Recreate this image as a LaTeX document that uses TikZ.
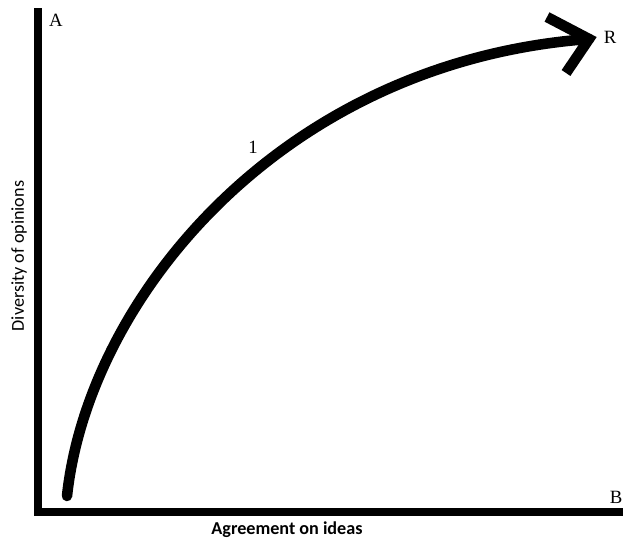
\documentclass[tikz,border=0pt]{standalone}
\usepackage{fontspec}
\setmainfont{Liberation Serif}
\newfontfamily\calfont{Carlito}
\tikzset{
  axisline/.style={line width=7.5pt, line cap=rect},
  pathline/.style={line width=9pt, line cap=round},
  corner/.style={font=\fontsize{16}{16}\selectfont, inner sep=0pt},
  axislabel/.style={font=\calfont\fontsize{15.5}{16}\selectfont, inner sep=0pt}
}
\begin{document}
\begin{tikzpicture}[x=0.03cm, y=-0.03cm]
        \useasboundingbox (0,0) rectangle (623,539);
        % Assi
        \coordinate (top) at (38,12);
        \coordinate (origin) at (38,512);
        \coordinate (right) at (628,512);
        \draw[axisline] (top) -- (origin) -- (right);

        % Etichette degli angoli
        \node[corner] (A) at (56,20) {A};
        \node[corner] (R) at (610,37) {R};
        \node[corner] (B) at (616,497) {B};

        % Nomi degli assi
        \node[axislabel, font=\calfont\bfseries\fontsize{15.5}{16}\selectfont] (xlab) at (287,530) {Agreement on ideas};
        \node[axislabel, rotate=90] (ylab) at (19,256) {Diversity of opinions};

        % Curva con freccia disegnata a mano
        \coordinate (start) at (67,496);
        \coordinate (tip) at (589,39);
        \draw[pathline] (start) .. controls (88,300) and (280,62) .. (tip);
        \coordinate (barbup) at (547,17);
        \coordinate (barbdown) at (566,73);
        \draw[pathline, line cap=butt, line join=miter] (barbup) -- (tip) -- (barbdown);

        \node[corner] (one) at (253,147) {1};
    \end{tikzpicture}
\end{document}
